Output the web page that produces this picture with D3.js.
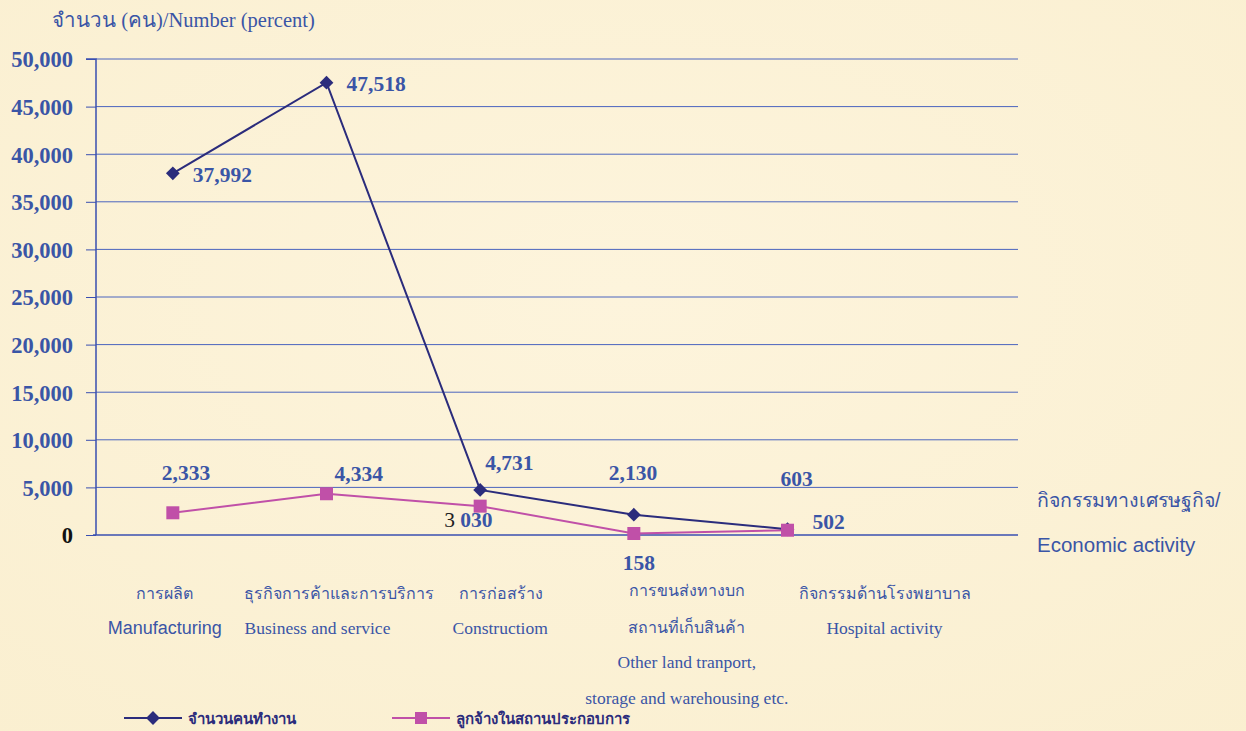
<!DOCTYPE html>
<html><head><meta charset="utf-8">
<script src="https://cdn.jsdelivr.net/npm/d3@7"></script>
<style>
html,body{margin:0;padding:0;background:#FCF2D7;}
svg{display:block;}
</style></head>
<body>
<svg id="chart" width="1246" height="731"></svg>
<script>
const categoriesTh = ["การผลิต","ธุรกิจการค้าและการบริการ","การก่อสร้าง","การขนส่งทางบก|สถานที่เก็บสินค้า","กิจกรรมด้านโรงพยาบาล"];
const categoriesEn = ["Manufacturing","Business and service","Constructiom","Other land tranport,|storage and warehousing etc.","Hospital activity"];
const workers = [37992, 47518, 4731, 2130, 603];
const employees = [2333, 4334, 3030, 158, 502];
const workersLabels = ["37,992","47,518","4,731","2,130","603"];
const employeesLabels = ["2,333","4,334","3 030","158","502"];
const yTicks = [0,5000,10000,15000,20000,25000,30000,35000,40000,45000,50000];
const seriesNames = ["จำนวนคนทำงาน","ลูกจ้างในสถานประกอบการ"];

const svg = d3.select("#chart");
const blue = "#3A55A6", navy = "#2B2C7C", magenta = "#C050A8";
const serif = "'Liberation Serif','Times New Roman',serif";
const sans = "'Liberation Sans',Arial,sans-serif";

const defs = svg.append("defs");
const g0 = defs.append("radialGradient").attr("id","bg").attr("cx","50%").attr("cy","40%").attr("r","80%");
g0.append("stop").attr("offset","0%").attr("stop-color","#FDF4DC");
g0.append("stop").attr("offset","100%").attr("stop-color","#FAEFD0");
svg.append("rect").attr("width",1246).attr("height",731).attr("fill","url(#bg)");

const left = 96, plotRight = 1018;
const x = d3.scaleBand().domain(d3.range(categoriesTh.length)).range([left, left + (plotRight-left)*5/6]);
const cx = i => x(i) + x.bandwidth()/2;
const y = d3.scaleLinear().domain([0,50000]).range([535,59]);

// gridlines
svg.append("g").selectAll("line").data(yTicks.filter(d=>d>0)).join("line")
  .attr("x1",left).attr("x2",plotRight).attr("y1",d=>y(d)).attr("y2",d=>y(d))
  .attr("stroke","#4A64BE").attr("stroke-width",1);
// axis
const yAxis = d3.axisLeft(y).tickValues(yTicks).tickSize(10).tickFormat(d3.format(","));
const ga = svg.append("g").attr("transform",`translate(${left},0)`).call(yAxis);
ga.select(".domain").attr("stroke","#3A4FB0").attr("stroke-width",1.5).attr("d",`M-10,${y(50000)}H0V${y(0)}`);
ga.selectAll(".tick line").attr("stroke","#3A4FB0");
ga.selectAll(".tick text").attr("font-family",serif).attr("font-weight","bold").attr("font-size",22.5)
  .attr("fill",d=>d===0?"#111":blue).attr("x",-23).attr("dy","0.35em");
svg.append("line").attr("x1",left-3).attr("x2",plotRight).attr("y1",y(0)).attr("y2",y(0)).attr("stroke","#3A4FB0").attr("stroke-width",1.5);

// lines
const line = d3.line().x((d,i)=>cx(i)).y(d=>y(d));
svg.append("path").datum(employees).attr("d",line).attr("fill","none").attr("stroke",magenta).attr("stroke-width",2);
svg.append("path").datum(workers).attr("d",line).attr("fill","none").attr("stroke",navy).attr("stroke-width",2);
const diamond = d3.symbol().type(d3.symbolSquare).size(95);
svg.append("g").selectAll("path").data(workers).join("path")
  .attr("d",diamond).attr("fill",navy)
  .attr("transform",(d,i)=>`translate(${cx(i)},${y(d)}) rotate(45)`);
svg.append("g").selectAll("rect").data(employees).join("rect")
  .attr("x",(d,i)=>cx(i)-6.5).attr("y",d=>y(d)-6.5).attr("width",13).attr("height",13).attr("fill",magenta);

// data labels
const wOff = [[20,9],[20,8],[5,-20],[-25,-35],[-7,-43]];
const eOff = [[-11,-33],[8,-13],[-36,21],[-11,37],[25,-1]];
const lab = svg.append("g").attr("font-family",serif).attr("font-weight","bold").attr("font-size",21.5).attr("fill",blue);
lab.selectAll("text.w").data(workersLabels).join("text").attr("class","w")
  .attr("x",(d,i)=>cx(i)+wOff[i][0]).attr("y",(d,i)=>y(workers[i])+wOff[i][1]).text(d=>d);
lab.selectAll("text.e").data(employeesLabels).join("text").attr("class","e")
  .attr("x",(d,i)=>cx(i)+eOff[i][0]).attr("y",(d,i)=>y(employees[i])+eOff[i][1])
  .each(function(d){
    const t=d3.select(this);
    if(d.indexOf(" ")>0){const p=d.split(" ");t.append("tspan").attr("fill","#222").attr("font-weight","normal").text(p[0]+" ");t.append("tspan").text(p[1]);}
    else t.text(d);
  });

// category labels
const thShift = [-8,12,21,53,97];
const enShift = [-8,-9,20,53,97];
const cat = svg.append("g").attr("fill",blue).attr("text-anchor","middle");
categoriesTh.forEach((t,i)=>{
  const th = t.split("|"), en = categoriesEn[i].split("|");
  const multi = th.length>1;
  th.forEach((s,k)=>cat.append("text").attr("x",cx(i)+thShift[i]).attr("y",(multi?596:599)+k*37)
    .attr("font-family",serif).attr("font-size",16).text(s));
  const enStart = multi?668:634;
  en.forEach((s,k)=>cat.append("text").attr("x",cx(i)+enShift[i]).attr("y",enStart+k*36)
    .attr("font-family",i===0?sans:serif).attr("font-size",i===0?18:17.5).text(s));
});

// titles
svg.append("text").attr("x",52).attr("y",27).attr("font-family",serif).attr("font-size",20.5).attr("fill",blue)
  .text("จำนวน (คน)/Number (percent)");
svg.append("text").attr("x",1037).attr("y",507).attr("font-family",sans).attr("font-size",19.5).attr("fill",blue).text("กิจกรรมทางเศรษฐกิจ/");
svg.append("text").attr("x",1037).attr("y",552).attr("font-family",sans).attr("font-size",20.5).attr("fill",blue).text("Economic activity");

// legend
const leg = svg.append("g");
const items = [{x:124,c:navy,t:seriesNames[0],m:"d"},{x:392,c:magenta,t:seriesNames[1],m:"s"}];
items.forEach(it=>{
  leg.append("line").attr("x1",it.x).attr("x2",it.x+58).attr("y1",718).attr("y2",718).attr("stroke",it.c).attr("stroke-width",2);
  if(it.m==="d") leg.append("path").attr("d",diamond).attr("fill",it.c).attr("transform",`translate(${it.x+29},718) rotate(45)`);
  else leg.append("rect").attr("x",it.x+23).attr("y",712).attr("width",12).attr("height",12).attr("fill",it.c);
  leg.append("text").attr("x",it.x+64).attr("y",724).attr("font-family",serif).attr("font-weight","bold").attr("font-size",15).attr("fill",navy).text(it.t);
});
</script>
</body></html>
